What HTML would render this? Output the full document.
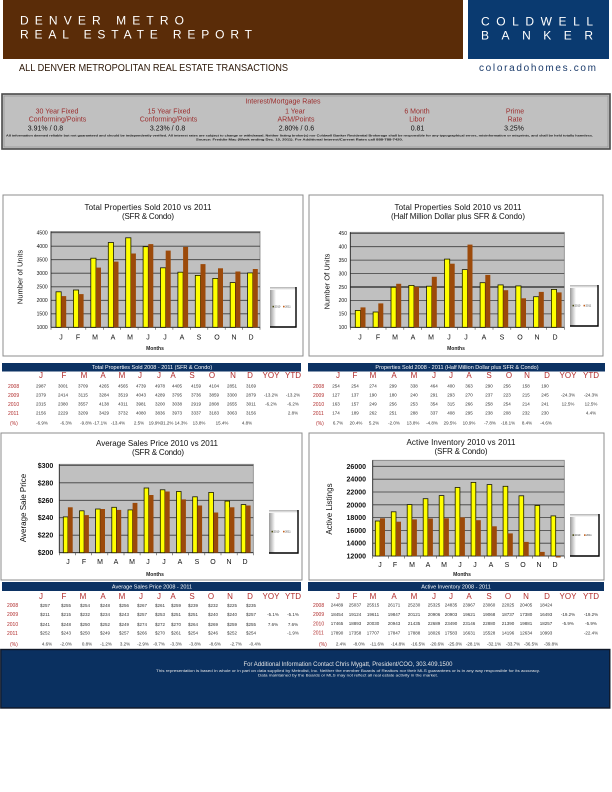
<!DOCTYPE html>
<html><head><meta charset="utf-8"><style>
html,body{margin:0;padding:0;background:#fff;}
svg{display:block;}
text{font-family:"Liberation Sans",sans-serif;}
.t{font-size:8px;fill:#111;}
.yl{font-size:5px;fill:#111;text-anchor:end;}
.yb{font-size:7px;fill:#111;text-anchor:end;font-weight:bold;}
.xl{font-size:7px;fill:#111;text-anchor:middle;}
.mo{font-size:5px;fill:#222;text-anchor:middle;font-weight:bold;}
.ch{font-size:8px;fill:#b02a2a;text-anchor:middle;}
.yr{font-size:5px;fill:#b02a2a;}
.d{font-size:4.5px;fill:#333;text-anchor:middle;}
.hb{font-size:5.5px;fill:#fff;text-anchor:middle;}
.ir{font-size:7px;fill:#9b2d2d;text-anchor:middle;}
.iv{font-size:7px;fill:#111;text-anchor:middle;}
.yel{fill:#ffff00;stroke:#1a1a00;stroke-width:0.8;}
.brn{fill:#9c4a0a;}
.grid{stroke:#3c3c3c;stroke-width:0.8;fill:none;}
.frame{fill:#fff;stroke:#8c8c8c;stroke-width:1;}
.plot{fill:#c0c0c0;stroke:#808080;stroke-width:0.8;}
.lg{font-size:2.6px;fill:#333;}
</style></head><body>
<svg width="612" height="792" viewBox="0 0 612 792" xmlns="http://www.w3.org/2000/svg">
<defs>
<linearGradient id="lgl" x1="0" x2="1" y1="0" y2="0"><stop offset="0" stop-color="#9a9a9a"/><stop offset="1" stop-color="#ffffff"/></linearGradient>
<linearGradient id="lgt" x1="0" x2="0" y1="0" y2="1"><stop offset="0" stop-color="#b0b0b0"/><stop offset="1" stop-color="#ffffff"/></linearGradient>
</defs>
<rect width="612" height="792" fill="#fff"/>
<!-- HEADER -->
<rect x="3" y="0" width="460" height="59" fill="#5a2c08"/>
<rect x="468" y="0" width="141" height="59" fill="#0a3a70"/>
<text x="20" y="24.3" font-size="12" fill="#fff" textLength="164" lengthAdjust="spacing">DENVER METRO</text>
<text x="20" y="38.7" font-size="12" fill="#fff" textLength="232" lengthAdjust="spacing">REAL ESTATE REPORT</text>
<text x="481" y="25.3" font-size="12" fill="#fff" textLength="112" lengthAdjust="spacing">COLDWELL</text>
<text x="481" y="39.7" font-size="12" fill="#fff" textLength="112" lengthAdjust="spacing">BANKER</text>
<text x="19" y="71" font-size="9.8" fill="#2a1505" textLength="269" lengthAdjust="spacingAndGlyphs">ALL DENVER METROPOLITAN REAL ESTATE TRANSACTIONS</text>
<text x="479" y="71" font-size="10" fill="#1a3a6a" textLength="117" lengthAdjust="spacing">coloradohomes.com</text>

<!-- INTEREST BOX -->
<rect x="2" y="94" width="608" height="55" fill="#c0c0c0" stroke="#4a4a4a" stroke-width="1.6"/>
<rect x="4" y="96" width="604" height="51" fill="none" stroke="#8a8a8a" stroke-width="0.6"/>
<text class="ir" x="283" y="103.5" font-size="7.5">Interest/Mortgage Rates</text>
<text class="ir" x="57" y="113.5">30 Year Fixed</text>
<text class="ir" x="57.5" y="121.5">Conforming/Points</text>
<text class="iv" x="45.5" y="130.5">3.91% / 0.8</text>
<text class="ir" x="169" y="113.5">15 Year Fixed</text>
<text class="ir" x="168.5" y="121.5">Conforming/Points</text>
<text class="iv" x="167.6" y="130.5">3.23% / 0.8</text>
<text class="ir" x="295" y="113.5">1 Year</text>
<text class="ir" x="296" y="121.5">ARM/Points</text>
<text class="iv" x="296.4" y="130.5">2.80% / 0.6</text>
<text class="ir" x="417" y="113.5">6 Month</text>
<text class="ir" x="417" y="121.5">Libor</text>
<text class="iv" x="417.5" y="130.5">0.81</text>
<text class="ir" x="515" y="113.5">Prime</text>
<text class="ir" x="515" y="121.5">Rate</text>
<text class="iv" x="514" y="130.5">3.25%</text>
<text x="6" y="136.4" font-size="3" font-weight="bold" fill="#111" textLength="587" lengthAdjust="spacingAndGlyphs">All information deemed reliable but not guaranteed and should be independently verified. All interest rates are subject to change or withdrawal. Neither listing broker(s) nor Coldwell Banker Residential Brokerage shall be responsible for any typographical errors, misinformation or misprints, and shall be held totally harmless.</text>
<text x="196" y="140.6" font-size="3" font-weight="bold" fill="#111" textLength="207" lengthAdjust="spacingAndGlyphs">Source: Freddie Mac (Week ending Dec. 15, 2011).  For Additional Interest/Current Rates call 888-788-7420.</text>

<!-- CHART 1 -->
<rect class="frame" x="3" y="195" width="300" height="161"/>
<text class="t" x="148" y="210" text-anchor="middle" textLength="127" lengthAdjust="spacing">Total Properties Sold    2010 vs 2011</text>
<text class="t" x="148" y="219" text-anchor="middle" textLength="52" lengthAdjust="spacing">(SFR &amp; Condo)</text>
<rect class="plot" x="51" y="231.5" width="209" height="95.8"/>
<path class="grid" d="M51 313.8H260M51 300.3H260M51 286.8H260M51 273.2H260M51 259.7H260M51 246.2H260M51 232.7H260"/>
<path d="M51 327.3H260M51 231.5V327.3" stroke="#222" stroke-width="0.8"/>
<path d="M51 327.3v2.5M68.4 327.3v2.5M85.8 327.3v2.5M103.3 327.3v2.5M120.7 327.3v2.5M138.1 327.3v2.5M155.5 327.3v2.5M172.9 327.3v2.5M190.3 327.3v2.5M207.8 327.3v2.5M225.2 327.3v2.5M242.6 327.3v2.5M260 327.3v2.5" stroke="#444" stroke-width="0.6"/>
<text class="yl" x="47.7" y="234.5">4500</text>
<text class="yl" x="47.7" y="248">4000</text>
<text class="yl" x="47.7" y="261.5">3500</text>
<text class="yl" x="47.7" y="275">3000</text>
<text class="yl" x="47.7" y="288.6">2500</text>
<text class="yl" x="47.7" y="302.1">2000</text>
<text class="yl" x="47.7" y="315.6">1500</text>
<text class="yl" x="47.7" y="329.1">1000</text>
<text x="0" y="0" font-size="7.5" fill="#111" text-anchor="middle" transform="translate(22.5 277) rotate(-90)">Number of Units</text>
<g>
<rect class="yel" x="56" y="291.8" width="5.2" height="35.5"/><rect class="brn" x="61.2" y="296.1" width="5" height="31.2"/>
<rect class="yel" x="73.4" y="290" width="5.2" height="37.3"/><rect class="brn" x="78.6" y="294.1" width="5" height="33.2"/>
<rect class="yel" x="90.8" y="258.2" width="5.2" height="69.1"/><rect class="brn" x="96" y="267.6" width="5" height="59.7"/>
<rect class="yel" x="108.3" y="242.5" width="5.2" height="84.8"/><rect class="brn" x="113.5" y="261.6" width="5" height="65.7"/>
<rect class="yel" x="125.7" y="237.8" width="5.2" height="89.5"/><rect class="brn" x="130.9" y="253.5" width="5" height="73.8"/>
<rect class="yel" x="143.1" y="246.7" width="5.2" height="80.6"/><rect class="brn" x="148.3" y="244.1" width="5" height="83.2"/>
<rect class="yel" x="160.5" y="267.8" width="5.2" height="59.5"/><rect class="brn" x="165.7" y="250.6" width="5" height="76.7"/>
<rect class="yel" x="177.9" y="272.2" width="5.2" height="55.1"/><rect class="brn" x="183.1" y="246.9" width="5" height="80.4"/>
<rect class="yel" x="195.3" y="275.4" width="5.2" height="51.9"/><rect class="brn" x="200.5" y="264.1" width="5" height="63.2"/>
<rect class="yel" x="212.8" y="278.4" width="5.2" height="48.9"/><rect class="brn" x="218" y="268.3" width="5" height="59"/>
<rect class="yel" x="230.2" y="282.6" width="5.2" height="44.7"/><rect class="brn" x="235.4" y="271.5" width="5" height="55.8"/>
<rect class="yel" x="247.6" y="272.9" width="5.2" height="54.4"/><rect class="brn" x="252.8" y="269" width="5" height="58.3"/>
</g>
<text class="xl" x="61" y="339.5">J</text><text class="xl" x="78" y="339.5">F</text><text class="xl" x="95" y="339.5">M</text><text class="xl" x="113" y="339.5">A</text><text class="xl" x="130" y="339.5">M</text><text class="xl" x="148" y="339.5">J</text><text class="xl" x="165" y="339.5">J</text><text class="xl" x="182" y="339.5">A</text><text class="xl" x="199" y="339.5">S</text><text class="xl" x="217" y="339.5">O</text><text class="xl" x="234" y="339.5">N</text><text class="xl" x="251" y="339.5">D</text>
<text class="mo" x="155" y="350">Months</text>
<rect x="270" y="287" width="26" height="40" fill="#fff"/>
<rect x="270" y="287" width="6" height="40" fill="url(#lgl)"/>
<rect x="270" y="287" width="26" height="3" fill="url(#lgt)"/>
<path d="M296 287V327H270" stroke="#000" stroke-width="1.4" fill="none"/>
<rect x="272.5" y="305.8" width="1.6" height="1.6" fill="#4a4a10"/><text class="lg" x="274.6" y="307.5">2010</text>
<rect x="283" y="305.8" width="1.6" height="1.6" fill="#c06020"/><text class="lg" x="285.1" y="307.5">2011</text>

<!-- CHART 2 -->
<rect class="frame" x="309" y="195" width="294" height="161"/>
<text class="t" x="458" y="210" text-anchor="middle" textLength="127" lengthAdjust="spacing">Total Properties Sold    2010 vs 2011</text>
<text class="t" x="458" y="219" text-anchor="middle" textLength="134" lengthAdjust="spacing">(Half Million Dollar plus SFR &amp; Condo)</text>
<rect class="plot" x="350.3" y="232.3" width="214" height="95"/>
<path class="grid" d="M350.3 313.9H564.3M350.3 300.4H564.3M350.3 273.6H564.3M350.3 260.1H564.3M350.3 246.7H564.3M350.3 233.3H564.3"/>
<path d="M350.3 287H564.3" stroke="#3c3c3c" stroke-width="1.4"/>
<path d="M350.3 327.3H564.3M350.3 232.3V327.3" stroke="#222" stroke-width="0.8"/>
<path d="M350.3 327.3v2.5M368.1 327.3v2.5M386 327.3v2.5M403.8 327.3v2.5M421.6 327.3v2.5M439.5 327.3v2.5M457.3 327.3v2.5M475.1 327.3v2.5M493 327.3v2.5M510.8 327.3v2.5M528.6 327.3v2.5M546.4 327.3v2.5M564.3 327.3v2.5" stroke="#444" stroke-width="0.6"/>
<text class="yl" x="347" y="235.1">450</text>
<text class="yl" x="347" y="248.5">400</text>
<text class="yl" x="347" y="261.9">350</text>
<text class="yl" x="347" y="275.4">300</text>
<text class="yl" x="347" y="288.8">250</text>
<text class="yl" x="347" y="302.2">200</text>
<text class="yl" x="347" y="315.7">150</text>
<text class="yl" x="347" y="329.1">100</text>
<text x="0" y="0" font-size="7.5" fill="#111" text-anchor="middle" transform="translate(329.5 281.5) rotate(-90)">Number Of Units</text>
<g>
<rect class="yel" x="355.3" y="310.4" width="5.2" height="16.9"/><rect class="brn" x="360.5" y="307.4" width="5" height="19.9"/>
<rect class="yel" x="373.1" y="312" width="5.2" height="15.3"/><rect class="brn" x="378.3" y="303.4" width="5" height="23.9"/>
<rect class="yel" x="391" y="287.3" width="5.2" height="40"/><rect class="brn" x="396.2" y="283.8" width="5" height="43.5"/>
<rect class="yel" x="408.8" y="285.4" width="5.2" height="41.9"/><rect class="brn" x="414" y="286.8" width="5" height="40.5"/>
<rect class="yel" x="426.6" y="286.2" width="5.2" height="41.1"/><rect class="brn" x="431.8" y="276.8" width="5" height="50.5"/>
<rect class="yel" x="444.5" y="259.1" width="5.2" height="68.2"/><rect class="brn" x="449.7" y="263.7" width="5" height="63.6"/>
<rect class="yel" x="462.3" y="269.6" width="5.2" height="57.7"/><rect class="brn" x="467.5" y="244.6" width="5" height="82.7"/>
<rect class="yel" x="480.1" y="282.7" width="5.2" height="44.6"/><rect class="brn" x="485.3" y="274.9" width="5" height="52.4"/>
<rect class="yel" x="498" y="284.9" width="5.2" height="42.4"/><rect class="brn" x="503.2" y="290.2" width="5" height="37.1"/>
<rect class="yel" x="515.8" y="285.9" width="5.2" height="41.4"/><rect class="brn" x="521" y="298.3" width="5" height="29"/>
<rect class="yel" x="533.6" y="296.7" width="5.2" height="30.6"/><rect class="brn" x="538.8" y="291.9" width="5" height="35.4"/>
<rect class="yel" x="551.4" y="289.4" width="5.2" height="37.9"/><rect class="brn" x="556.6" y="292.4" width="5" height="34.9"/>
</g>
<text class="xl" x="360" y="339.5">J</text><text class="xl" x="378" y="339.5">F</text><text class="xl" x="395" y="339.5">M</text><text class="xl" x="413" y="339.5">A</text><text class="xl" x="431" y="339.5">M</text><text class="xl" x="449" y="339.5">J</text><text class="xl" x="466" y="339.5">J</text><text class="xl" x="484" y="339.5">A</text><text class="xl" x="502" y="339.5">S</text><text class="xl" x="520" y="339.5">O</text><text class="xl" x="537" y="339.5">N</text><text class="xl" x="555" y="339.5">D</text>
<text class="mo" x="456" y="350">Months</text>
<rect x="570" y="285" width="28" height="41" fill="#fff"/>
<rect x="570" y="285" width="6" height="41" fill="url(#lgl)"/>
<rect x="570" y="285" width="28" height="3" fill="url(#lgt)"/>
<path d="M598 285V326H570" stroke="#000" stroke-width="1.4" fill="none"/>
<rect x="572.5" y="304.8" width="1.6" height="1.6" fill="#4a4a10"/><text class="lg" x="574.6" y="306.5">2010</text>
<rect x="583.5" y="304.8" width="1.6" height="1.6" fill="#c06020"/><text class="lg" x="585.6" y="306.5">2011</text>

<!-- TABLE 1 -->
<rect x="2" y="363" width="299" height="8.5" fill="#0c3263"/>
<text class="hb" x="152" y="369.2">Total Properties Sold    2008 - 2011 (SFR &amp; Condo)</text>
<g>
<text class="ch" x="41" y="378">J</text><text class="ch" x="64" y="378">F</text><text class="ch" x="84" y="378">M</text><text class="ch" x="103" y="378">A</text><text class="ch" x="122" y="378">M</text><text class="ch" x="140" y="378">J</text><text class="ch" x="159" y="378">J</text><text class="ch" x="173" y="378">A</text><text class="ch" x="192" y="378">S</text><text class="ch" x="212" y="378">O</text><text class="ch" x="233" y="378">N</text><text class="ch" x="250" y="378">D</text><text class="ch" x="271" y="378">YOY</text><text class="ch" x="293" y="378">YTD</text>
</g>
<text class="yr" x="8" y="387.8">2008</text>
<text class="yr" x="8" y="396.8">2009</text>
<text class="yr" x="8" y="405.8">2010</text>
<text class="yr" x="8" y="414.8">2011</text>
<g>
<text class="d" x="41" y="387.6">2987</text><text class="d" x="63" y="387.6">3001</text><text class="d" x="83" y="387.6">3709</text><text class="d" x="104" y="387.6">4265</text><text class="d" x="123" y="387.6">4565</text><text class="d" x="141" y="387.6">4739</text><text class="d" x="160" y="387.6">4978</text><text class="d" x="177" y="387.6">4405</text><text class="d" x="196" y="387.6">4159</text><text class="d" x="214" y="387.6">4104</text><text class="d" x="232" y="387.6">2851</text><text class="d" x="251" y="387.6">3169</text>
<text class="d" x="41" y="396.6">2379</text><text class="d" x="63" y="396.6">2414</text><text class="d" x="83" y="396.6">3115</text><text class="d" x="104" y="396.6">3284</text><text class="d" x="123" y="396.6">3519</text><text class="d" x="141" y="396.6">4043</text><text class="d" x="160" y="396.6">4289</text><text class="d" x="177" y="396.6">3795</text><text class="d" x="196" y="396.6">3736</text><text class="d" x="214" y="396.6">3859</text><text class="d" x="232" y="396.6">3300</text><text class="d" x="251" y="396.6">2879</text><text class="d" x="271" y="396.6">-13.2%</text><text class="d" x="293" y="396.6">-13.2%</text>
<text class="d" x="41" y="405.6">2315</text><text class="d" x="63" y="405.6">2380</text><text class="d" x="83" y="405.6">3557</text><text class="d" x="104" y="405.6">4138</text><text class="d" x="123" y="405.6">4311</text><text class="d" x="141" y="405.6">3981</text><text class="d" x="160" y="405.6">3200</text><text class="d" x="177" y="405.6">3038</text><text class="d" x="196" y="405.6">2919</text><text class="d" x="214" y="405.6">2808</text><text class="d" x="232" y="405.6">2655</text><text class="d" x="251" y="405.6">3011</text><text class="d" x="271" y="405.6">-6.2%</text><text class="d" x="293" y="405.6">-6.2%</text>
<text class="d" x="41" y="414.6">2156</text><text class="d" x="63" y="414.6">2229</text><text class="d" x="83" y="414.6">3209</text><text class="d" x="104" y="414.6">3429</text><text class="d" x="123" y="414.6">3732</text><text class="d" x="141" y="414.6">4080</text><text class="d" x="160" y="414.6">3836</text><text class="d" x="177" y="414.6">3973</text><text class="d" x="196" y="414.6">3337</text><text class="d" x="214" y="414.6">3183</text><text class="d" x="232" y="414.6">3063</text><text class="d" x="251" y="414.6">3156</text><text class="d" x="293" y="414.6">2.8%</text>
</g>
<text class="yr" x="10" y="424.8">(%)</text>
<g>
<text class="d" x="42" y="424.6">-6.9%</text><text class="d" x="66" y="424.6">-6.3%</text><text class="d" x="86" y="424.6">-9.8%</text><text class="d" x="100" y="424.6">-17.1%</text><text class="d" x="118" y="424.6">-13.4%</text><text class="d" x="139" y="424.6">2.5%</text><text class="d" x="155" y="424.6">19.9%</text><text class="d" x="167" y="424.6">31.2%</text><text class="d" x="181" y="424.6">14.3%</text><text class="d" x="199" y="424.6">13.8%</text><text class="d" x="222" y="424.6">15.4%</text><text class="d" x="247" y="424.6">4.8%</text>
</g>

<!-- TABLE 2 -->
<rect x="308" y="363" width="297" height="8.5" fill="#0c3263"/>
<text class="hb" x="457" y="369.2">Properties Sold    2008 - 2011 (Half Million Dollar plus SFR &amp; Condo)</text>
<g>
<text class="ch" x="338" y="378">J</text><text class="ch" x="355" y="378">F</text><text class="ch" x="373" y="378">M</text><text class="ch" x="394" y="378">A</text><text class="ch" x="414" y="378">M</text><text class="ch" x="434" y="378">J</text><text class="ch" x="451" y="378">J</text><text class="ch" x="469" y="378">A</text><text class="ch" x="489" y="378">S</text><text class="ch" x="509" y="378">O</text><text class="ch" x="527" y="378">N</text><text class="ch" x="547" y="378">D</text><text class="ch" x="568" y="378">YOY</text><text class="ch" x="591" y="378">YTD</text>
</g>
<text class="yr" x="313" y="387.8">2008</text>
<text class="yr" x="313" y="396.8">2009</text>
<text class="yr" x="313" y="405.8">2010</text>
<text class="yr" x="313" y="414.8">2011</text>
<g>
<text class="d" x="336" y="387.6">254</text><text class="d" x="355" y="387.6">254</text><text class="d" x="373" y="387.6">274</text><text class="d" x="393" y="387.6">299</text><text class="d" x="414" y="387.6">338</text><text class="d" x="434" y="387.6">464</text><text class="d" x="451" y="387.6">400</text><text class="d" x="469" y="387.6">363</text><text class="d" x="489" y="387.6">290</text><text class="d" x="507" y="387.6">256</text><text class="d" x="526" y="387.6">158</text><text class="d" x="545" y="387.6">190</text>
<text class="d" x="336" y="396.6">127</text><text class="d" x="355" y="396.6">137</text><text class="d" x="373" y="396.6">190</text><text class="d" x="393" y="396.6">180</text><text class="d" x="414" y="396.6">240</text><text class="d" x="434" y="396.6">291</text><text class="d" x="451" y="396.6">293</text><text class="d" x="469" y="396.6">270</text><text class="d" x="489" y="396.6">237</text><text class="d" x="507" y="396.6">223</text><text class="d" x="526" y="396.6">215</text><text class="d" x="545" y="396.6">245</text><text class="d" x="568" y="396.6">-24.3%</text><text class="d" x="591" y="396.6">-24.3%</text>
<text class="d" x="336" y="405.6">163</text><text class="d" x="355" y="405.6">157</text><text class="d" x="373" y="405.6">249</text><text class="d" x="393" y="405.6">256</text><text class="d" x="414" y="405.6">253</text><text class="d" x="434" y="405.6">354</text><text class="d" x="451" y="405.6">315</text><text class="d" x="469" y="405.6">266</text><text class="d" x="489" y="405.6">258</text><text class="d" x="507" y="405.6">254</text><text class="d" x="526" y="405.6">214</text><text class="d" x="545" y="405.6">241</text><text class="d" x="568" y="405.6">12.5%</text><text class="d" x="591" y="405.6">12.5%</text>
<text class="d" x="336" y="414.6">174</text><text class="d" x="355" y="414.6">189</text><text class="d" x="373" y="414.6">262</text><text class="d" x="393" y="414.6">251</text><text class="d" x="414" y="414.6">288</text><text class="d" x="434" y="414.6">337</text><text class="d" x="451" y="414.6">408</text><text class="d" x="469" y="414.6">295</text><text class="d" x="489" y="414.6">238</text><text class="d" x="507" y="414.6">208</text><text class="d" x="526" y="414.6">232</text><text class="d" x="545" y="414.6">230</text><text class="d" x="591" y="414.6">4.4%</text>
</g>
<text class="yr" x="316" y="424.8">(%)</text>
<g>
<text class="d" x="338" y="424.6">6.7%</text><text class="d" x="356" y="424.6">20.4%</text><text class="d" x="374" y="424.6">5.2%</text><text class="d" x="394" y="424.6">-2.0%</text><text class="d" x="413" y="424.6">13.8%</text><text class="d" x="432" y="424.6">-4.8%</text><text class="d" x="450" y="424.6">29.5%</text><text class="d" x="469" y="424.6">10.9%</text><text class="d" x="490" y="424.6">-7.8%</text><text class="d" x="508" y="424.6">-18.1%</text><text class="d" x="527" y="424.6">8.4%</text><text class="d" x="546" y="424.6">-4.6%</text>
</g>

<!-- CHART 3 -->
<rect class="frame" x="1" y="433" width="301" height="147"/>
<text class="t" x="157" y="446" text-anchor="middle" textLength="122" lengthAdjust="spacing">Average Sales Price    2010 vs 2011</text>
<text class="t" x="158" y="455" text-anchor="middle" textLength="52" lengthAdjust="spacing">(SFR &amp; Condo)</text>
<rect class="plot" x="59.3" y="464.3" width="194" height="88.4"/>
<path class="grid" d="M59.3 535.2H253.3M59.3 517.7H253.3M59.3 500.3H253.3M59.3 482.8H253.3M59.3 465.3H253.3"/>
<path d="M59.3 552.7H253.3M59.3 464.3V552.7" stroke="#222" stroke-width="0.8"/>
<path d="M59.3 552.7v2.5M75.5 552.7v2.5M91.6 552.7v2.5M107.8 552.7v2.5M124 552.7v2.5M140.1 552.7v2.5M156.3 552.7v2.5M172.5 552.7v2.5M188.7 552.7v2.5M204.8 552.7v2.5M221 552.7v2.5M237.2 552.7v2.5M253.3 552.7v2.5" stroke="#444" stroke-width="0.6"/>
<text class="yb" x="53.3" y="467.8">$300</text>
<text class="yb" x="53.3" y="485.3">$280</text>
<text class="yb" x="53.3" y="502.8">$260</text>
<text class="yb" x="53.3" y="520.2">$240</text>
<text class="yb" x="53.3" y="537.7">$220</text>
<text class="yb" x="53.3" y="555.2">$200</text>
<text x="0" y="0" font-size="8" fill="#111" text-anchor="middle" transform="translate(25.8 508) rotate(-90)">Average Sale Price</text>
<g>
<rect class="yel" x="63.3" y="516.9" width="4.6" height="35.8"/><rect class="brn" x="67.9" y="507.3" width="4.8" height="45.4"/>
<rect class="yel" x="79.5" y="510.8" width="4.6" height="41.9"/><rect class="brn" x="84.1" y="515.1" width="4.8" height="37.6"/>
<rect class="yel" x="95.6" y="509" width="4.6" height="43.7"/><rect class="brn" x="100.2" y="509" width="4.8" height="43.7"/>
<rect class="yel" x="111.8" y="507.3" width="4.6" height="45.4"/><rect class="brn" x="116.4" y="509.9" width="4.8" height="42.8"/>
<rect class="yel" x="128" y="509.9" width="4.6" height="42.8"/><rect class="brn" x="132.6" y="502.9" width="4.8" height="49.8"/>
<rect class="yel" x="144.1" y="488" width="4.6" height="64.7"/><rect class="brn" x="148.7" y="495" width="4.8" height="57.7"/>
<rect class="yel" x="160.3" y="489.8" width="4.6" height="62.9"/><rect class="brn" x="164.9" y="491.5" width="4.8" height="61.2"/>
<rect class="yel" x="176.5" y="491.5" width="4.6" height="61.2"/><rect class="brn" x="181.1" y="499.4" width="4.8" height="53.3"/>
<rect class="yel" x="192.7" y="496.8" width="4.6" height="55.9"/><rect class="brn" x="197.3" y="505.5" width="4.8" height="47.2"/>
<rect class="yel" x="208.8" y="492.4" width="4.6" height="60.3"/><rect class="brn" x="213.4" y="512.5" width="4.8" height="40.2"/>
<rect class="yel" x="225" y="501.1" width="4.6" height="51.6"/><rect class="brn" x="229.6" y="507.3" width="4.8" height="45.4"/>
<rect class="yel" x="241.2" y="504.6" width="4.6" height="48.1"/><rect class="brn" x="245.8" y="505.5" width="4.8" height="47.2"/>
</g>
<text class="xl" x="68" y="564">J</text><text class="xl" x="84" y="564">F</text><text class="xl" x="100" y="564">M</text><text class="xl" x="116" y="564">A</text><text class="xl" x="132" y="564">M</text><text class="xl" x="148" y="564">J</text><text class="xl" x="164" y="564">J</text><text class="xl" x="180" y="564">A</text><text class="xl" x="197" y="564">S</text><text class="xl" x="213" y="564">O</text><text class="xl" x="229" y="564">N</text><text class="xl" x="245" y="564">D</text>
<text class="mo" x="155" y="576">Months</text>
<rect x="269" y="510" width="29" height="43" fill="#fff"/>
<rect x="269" y="510" width="6" height="43" fill="url(#lgl)"/>
<rect x="269" y="510" width="29" height="3" fill="url(#lgt)"/>
<path d="M298 510V553H269" stroke="#000" stroke-width="1.4" fill="none"/>
<rect x="271.5" y="530.8" width="1.6" height="1.6" fill="#4a4a10"/><text class="lg" x="273.6" y="532.5">2010</text>
<rect x="283" y="530.8" width="1.6" height="1.6" fill="#c06020"/><text class="lg" x="285.1" y="532.5">2011</text>

<!-- CHART 4 -->
<rect class="frame" x="309" y="433" width="295" height="147"/>
<text class="t" x="461" y="445" text-anchor="middle" textLength="109" lengthAdjust="spacing">Active Inventory    2010 vs 2011</text>
<text class="t" x="461" y="454" text-anchor="middle" textLength="53" lengthAdjust="spacing">(SFR &amp; Condo)</text>
<rect class="plot" x="372.7" y="460.3" width="191.6" height="95.7"/>
<path class="grid" d="M372.7 543.2H564.3M372.7 530.4H564.3M372.7 517.6H564.3M372.7 504.8H564.3M372.7 492H564.3M372.7 479.2H564.3M372.7 466.3H564.3"/>
<path d="M372.7 556H564.3M372.7 460.3V556" stroke="#222" stroke-width="0.8"/>
<path d="M372.7 556v2.5M388.7 556v2.5M404.6 556v2.5M420.6 556v2.5M436.6 556v2.5M452.6 556v2.5M468.5 556v2.5M484.5 556v2.5M500.5 556v2.5M516.4 556v2.5M532.4 556v2.5M548.4 556v2.5M564.3 556v2.5" stroke="#444" stroke-width="0.6"/>
<text class="yb" x="366" y="468.8">26000</text>
<text class="yb" x="366" y="481.7">24000</text>
<text class="yb" x="366" y="494.5">22000</text>
<text class="yb" x="366" y="507.3">20000</text>
<text class="yb" x="366" y="520.1">18000</text>
<text class="yb" x="366" y="532.9">16000</text>
<text class="yb" x="366" y="545.7">14000</text>
<text class="yb" x="366" y="558.5">12000</text>
<text x="0" y="0" font-size="8" fill="#111" text-anchor="middle" transform="translate(331.8 509) rotate(-90)">Active Listings</text>
<g>
<rect class="yel" x="375.3" y="521" width="4.7" height="35"/><rect class="brn" x="380" y="518.3" width="5" height="37.7"/>
<rect class="yel" x="391.3" y="511.8" width="4.7" height="44.2"/><rect class="brn" x="396" y="521.7" width="5" height="34.3"/>
<rect class="yel" x="407.2" y="504.6" width="4.7" height="51.4"/><rect class="brn" x="411.9" y="519.4" width="5" height="36.6"/>
<rect class="yel" x="423.2" y="498.7" width="4.7" height="57.3"/><rect class="brn" x="427.9" y="518.5" width="5" height="37.5"/>
<rect class="yel" x="439.2" y="495.6" width="4.7" height="60.4"/><rect class="brn" x="443.9" y="518.3" width="5" height="37.7"/>
<rect class="yel" x="455.2" y="487.5" width="4.7" height="68.5"/><rect class="brn" x="459.9" y="517.4" width="5" height="38.6"/>
<rect class="yel" x="471.1" y="482.4" width="4.7" height="73.6"/><rect class="brn" x="475.8" y="520.2" width="5" height="35.8"/>
<rect class="yel" x="487.1" y="484.6" width="4.7" height="71.4"/><rect class="brn" x="491.8" y="526.3" width="5" height="29.7"/>
<rect class="yel" x="503.1" y="486.3" width="4.7" height="69.7"/><rect class="brn" x="507.8" y="533.4" width="5" height="22.6"/>
<rect class="yel" x="519" y="495.8" width="4.7" height="60.2"/><rect class="brn" x="523.7" y="541.9" width="5" height="14.1"/>
<rect class="yel" x="535" y="505.5" width="4.7" height="50.5"/><rect class="brn" x="539.7" y="551.9" width="5" height="4.1"/>
<rect class="yel" x="551" y="515.9" width="4.7" height="40.1"/><rect class="brn" x="555.7" y="556" width="5" height="1.5"/>
</g>
<text class="xl" x="380" y="567">J</text><text class="xl" x="395" y="567">F</text><text class="xl" x="412" y="567">M</text><text class="xl" x="428" y="567">A</text><text class="xl" x="444" y="567">M</text><text class="xl" x="460" y="567">J</text><text class="xl" x="475" y="567">J</text><text class="xl" x="491" y="567">A</text><text class="xl" x="507" y="567">S</text><text class="xl" x="523" y="567">O</text><text class="xl" x="539" y="567">N</text><text class="xl" x="555" y="567">D</text>
<text class="mo" x="462" y="576">Months</text>
<rect x="570" y="514" width="29" height="42" fill="#fff"/>
<rect x="570" y="514" width="6" height="42" fill="url(#lgl)"/>
<rect x="570" y="514" width="29" height="3" fill="url(#lgt)"/>
<path d="M599 514V556H570" stroke="#000" stroke-width="1.4" fill="none"/>
<rect x="572.5" y="534.3" width="1.6" height="1.6" fill="#4a4a10"/><text class="lg" x="574.6" y="536">2010</text>
<rect x="584" y="534.3" width="1.6" height="1.6" fill="#c06020"/><text class="lg" x="586.1" y="536">2011</text>

<!-- TABLE 3 -->
<rect x="2" y="582" width="299" height="9" fill="#0c3263"/>
<text class="hb" x="152" y="588.5">Average Sales Price    2008 - 2011</text>
<g>
<text class="ch" x="41" y="599">J</text><text class="ch" x="64" y="599">F</text><text class="ch" x="83" y="599">M</text><text class="ch" x="103" y="599">A</text><text class="ch" x="122" y="599">M</text><text class="ch" x="141" y="599">J</text><text class="ch" x="159" y="599">J</text><text class="ch" x="173" y="599">A</text><text class="ch" x="192" y="599">S</text><text class="ch" x="211" y="599">O</text><text class="ch" x="230" y="599">N</text><text class="ch" x="250" y="599">D</text><text class="ch" x="271" y="599">YOY</text><text class="ch" x="293" y="599">YTD</text>
</g>
<text class="yr" x="7" y="607.2">2008</text>
<text class="yr" x="7" y="616.2">2009</text>
<text class="yr" x="7" y="626.2">2010</text>
<text class="yr" x="7" y="634.8">2011</text>
<g>
<text class="d" x="45" y="607">$257</text><text class="d" x="66" y="607">$255</text><text class="d" x="85" y="607">$254</text><text class="d" x="105" y="607">$248</text><text class="d" x="124" y="607">$256</text><text class="d" x="142" y="607">$267</text><text class="d" x="160" y="607">$261</text><text class="d" x="176" y="607">$259</text><text class="d" x="193" y="607">$239</text><text class="d" x="213" y="607">$232</text><text class="d" x="232" y="607">$225</text><text class="d" x="251" y="607">$235</text>
<text class="d" x="45" y="616">$211</text><text class="d" x="66" y="616">$215</text><text class="d" x="85" y="616">$232</text><text class="d" x="105" y="616">$234</text><text class="d" x="124" y="616">$243</text><text class="d" x="142" y="616">$257</text><text class="d" x="160" y="616">$253</text><text class="d" x="176" y="616">$251</text><text class="d" x="193" y="616">$251</text><text class="d" x="213" y="616">$240</text><text class="d" x="232" y="616">$240</text><text class="d" x="251" y="616">$257</text><text class="d" x="273" y="616">-5.1%</text><text class="d" x="293" y="616">-5.1%</text>
<text class="d" x="45" y="626">$241</text><text class="d" x="66" y="626">$248</text><text class="d" x="85" y="626">$250</text><text class="d" x="105" y="626">$252</text><text class="d" x="124" y="626">$249</text><text class="d" x="142" y="626">$274</text><text class="d" x="160" y="626">$272</text><text class="d" x="176" y="626">$270</text><text class="d" x="193" y="626">$264</text><text class="d" x="213" y="626">$269</text><text class="d" x="232" y="626">$259</text><text class="d" x="251" y="626">$255</text><text class="d" x="273" y="626">7.6%</text><text class="d" x="293" y="626">7.6%</text>
<text class="d" x="45" y="634.6">$252</text><text class="d" x="66" y="634.6">$243</text><text class="d" x="85" y="634.6">$250</text><text class="d" x="105" y="634.6">$249</text><text class="d" x="124" y="634.6">$257</text><text class="d" x="142" y="634.6">$266</text><text class="d" x="160" y="634.6">$270</text><text class="d" x="176" y="634.6">$261</text><text class="d" x="193" y="634.6">$254</text><text class="d" x="213" y="634.6">$246</text><text class="d" x="232" y="634.6">$252</text><text class="d" x="251" y="634.6">$254</text><text class="d" x="293" y="634.6">-1.9%</text>
</g>
<text class="yr" x="10" y="645.8">(%)</text>
<g>
<text class="d" x="47" y="645.6">4.6%</text><text class="d" x="66" y="645.6">-2.0%</text><text class="d" x="87" y="645.6">0.8%</text><text class="d" x="106" y="645.6">-1.2%</text><text class="d" x="125" y="645.6">3.2%</text><text class="d" x="143" y="645.6">-2.9%</text><text class="d" x="159" y="645.6">-0.7%</text><text class="d" x="176" y="645.6">-3.3%</text><text class="d" x="195" y="645.6">-3.8%</text><text class="d" x="215" y="645.6">-8.6%</text><text class="d" x="236" y="645.6">-2.7%</text><text class="d" x="255" y="645.6">-0.4%</text>
</g>

<!-- TABLE 4 -->
<rect x="308" y="582" width="296" height="9" fill="#0c3263"/>
<text class="hb" x="456" y="588.5">Active Inventory    2008 - 2011</text>
<g>
<text class="ch" x="338" y="599">J</text><text class="ch" x="355" y="599">F</text><text class="ch" x="373" y="599">M</text><text class="ch" x="394" y="599">A</text><text class="ch" x="414" y="599">M</text><text class="ch" x="434" y="599">J</text><text class="ch" x="451" y="599">J</text><text class="ch" x="469" y="599">A</text><text class="ch" x="489" y="599">S</text><text class="ch" x="508" y="599">O</text><text class="ch" x="526" y="599">N</text><text class="ch" x="547" y="599">D</text><text class="ch" x="568" y="599">YOY</text><text class="ch" x="591" y="599">YTD</text>
</g>
<text class="yr" x="313" y="606.8">2008</text>
<text class="yr" x="313" y="616">2009</text>
<text class="yr" x="313" y="625.4">2010</text>
<text class="yr" x="313" y="634.7">2011</text>
<g>
<text class="d" x="337" y="606.6">24489</text><text class="d" x="355" y="606.6">25037</text><text class="d" x="373" y="606.6">25515</text><text class="d" x="394" y="606.6">26171</text><text class="d" x="414" y="606.6">25230</text><text class="d" x="434" y="606.6">25325</text><text class="d" x="451" y="606.6">24835</text><text class="d" x="469" y="606.6">23967</text><text class="d" x="489" y="606.6">23060</text><text class="d" x="508" y="606.6">22025</text><text class="d" x="526" y="606.6">20405</text><text class="d" x="546" y="606.6">18424</text>
<text class="d" x="337" y="615.8">18454</text><text class="d" x="355" y="615.8">19124</text><text class="d" x="373" y="615.8">19611</text><text class="d" x="394" y="615.8">19847</text><text class="d" x="414" y="615.8">20121</text><text class="d" x="434" y="615.8">20906</text><text class="d" x="451" y="615.8">20903</text><text class="d" x="469" y="615.8">19621</text><text class="d" x="489" y="615.8">19068</text><text class="d" x="508" y="615.8">18737</text><text class="d" x="526" y="615.8">17380</text><text class="d" x="546" y="615.8">16493</text><text class="d" x="568" y="615.8">-19.2%</text><text class="d" x="591" y="615.8">-19.2%</text>
<text class="d" x="337" y="625.2">17465</text><text class="d" x="355" y="625.2">18893</text><text class="d" x="373" y="625.2">20030</text><text class="d" x="394" y="625.2">20943</text><text class="d" x="414" y="625.2">21435</text><text class="d" x="434" y="625.2">22689</text><text class="d" x="451" y="625.2">23490</text><text class="d" x="469" y="625.2">23146</text><text class="d" x="489" y="625.2">22880</text><text class="d" x="508" y="625.2">21390</text><text class="d" x="526" y="625.2">19881</text><text class="d" x="546" y="625.2">18257</text><text class="d" x="568" y="625.2">-5.9%</text><text class="d" x="591" y="625.2">-5.9%</text>
<text class="d" x="337" y="634.5">17890</text><text class="d" x="355" y="634.5">17358</text><text class="d" x="373" y="634.5">17707</text><text class="d" x="394" y="634.5">17847</text><text class="d" x="414" y="634.5">17888</text><text class="d" x="434" y="634.5">18026</text><text class="d" x="451" y="634.5">17583</text><text class="d" x="469" y="634.5">16631</text><text class="d" x="489" y="634.5">15528</text><text class="d" x="508" y="634.5">14196</text><text class="d" x="526" y="634.5">12634</text><text class="d" x="546" y="634.5">10993</text><text class="d" x="591" y="634.5">-22.4%</text>
</g>
<text class="yr" x="319" y="645.8">(%)</text>
<g>
<text class="d" x="341" y="645.6">2.4%</text><text class="d" x="359" y="645.6">-8.0%</text><text class="d" x="377" y="645.6">-11.6%</text><text class="d" x="398" y="645.6">-14.8%</text><text class="d" x="418" y="645.6">-16.5%</text><text class="d" x="437" y="645.6">-20.6%</text><text class="d" x="455" y="645.6">-25.0%</text><text class="d" x="473" y="645.6">-28.1%</text><text class="d" x="494" y="645.6">-32.1%</text><text class="d" x="513" y="645.6">-33.7%</text><text class="d" x="531" y="645.6">-36.5%</text><text class="d" x="551" y="645.6">-39.8%</text>
</g>

<!-- FOOTER -->
<rect x="0.8" y="649.5" width="609" height="58.5" fill="#0a3060" stroke="#101828" stroke-width="1.4"/>
<text x="348" y="666" font-size="6" fill="#e6e6e6" text-anchor="middle" textLength="209" lengthAdjust="spacingAndGlyphs">For Additional Information Contact Chris Mygatt, President/COO, 303.409.1500</text>
<text x="348" y="672" font-size="3.3" fill="#e6e6e6" text-anchor="middle" textLength="384" lengthAdjust="spacingAndGlyphs">This representation is based in whole or in part on data supplied by Metrolist, Inc.  Neither the member Boards of Realtors nor their MLS guarantees or is in any way responsible for its accuracy.</text>
<text x="348" y="676.5" font-size="3.3" fill="#e6e6e6" text-anchor="middle" textLength="180" lengthAdjust="spacingAndGlyphs">Data maintained by the Boards or MLS may not reflect all real estate activity in the market.</text>
</svg>
</body></html>
